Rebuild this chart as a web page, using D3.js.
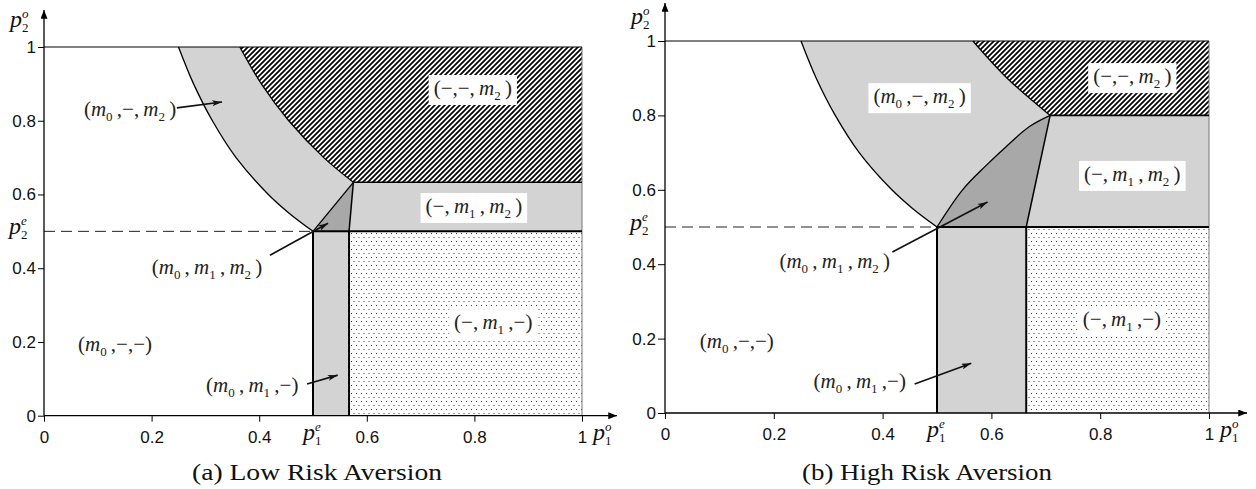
<!DOCTYPE html>
<html>
<head>
<meta charset="utf-8">
<script src="https://cdn.jsdelivr.net/npm/d3@7"></script>
<style>
  body { margin: 0; background: #fff; }
  svg { display: block; }
</style>
</head>
<body>
<svg id="chart" width="1256" height="489"></svg>
<script>
// tick values shared by both axes of both panels
var tickVals = [0, 0.2, 0.4, 0.6, 0.8, 1];
var pE = 0.5; // p1^e and p2^e

// outer edge of (m0,-,-), same in both panels
var curveA = [[0.25, 1], [0.278, 0.9], [0.313, 0.8], [0.357, 0.7], [0.417, 0.6], [0.455, 0.55], [0.5, 0.5]];

// (a) low risk aversion
var lowHatchEdge = [[0.364, 1], [0.404, 0.9], [0.455, 0.8], [0.52, 0.7], [0.575, 0.633]];
var lowInner = [[0.5, 0.5], [0.575, 0.633]];
var lowSplitX = 0.567;

// (b) high risk aversion
var highHatchEdge = [[0.566, 1], [0.629, 0.9], [0.708, 0.8]];
var highInner = [[0.5, 0.5], [0.547, 0.6], [0.59, 0.665], [0.627, 0.716], [0.67, 0.77], [0.708, 0.8]];
var highSplitX = 0.664;

// region labels: tokens, anchor (data units), white box or not
var lowLabels = [
  [["m0", "-", "m2"], [0.16, 0.829], false],
  [["-", "-", "m2"], [0.797, 0.886], true],
  [["-", "m1", "m2"], [0.799, 0.566], true],
  [["m0", "m1", "m2"], [0.303, 0.40], false],
  [["m0", "-", "-"], [0.132, 0.191], false],
  [["m0", "m1", "-"], [0.387, 0.081], false],
  [["-", "m1", "-"], [0.835, 0.251], true]
];
var highLabels = [
  [["m0", "-", "m2"], [0.468, 0.849], true],
  [["-", "-", "m2"], [0.859, 0.903], true],
  [["-", "m1", "m2"], [0.859, 0.64], true],
  [["m0", "m1", "m2"], [0.312, 0.406], false],
  [["m0", "-", "-"], [0.132, 0.191], false],
  [["m0", "m1", "-"], [0.358, 0.083], false],
  [["-", "m1", "-"], [0.84, 0.25], true]
];

// annotation arrows [from, to] in data units
var lowArrows = [
  [[0.247, 0.835], [0.331, 0.851]],
  [[0.42, 0.435], [0.528, 0.522]],
  [[0.489, 0.086], [0.546, 0.11]]
];
var highArrows = [
  [[0.418, 0.433], [0.593, 0.567]],
  [[0.459, 0.078], [0.563, 0.134]]
];

var captions = ["(a)  Low Risk Aversion", "(b)  High Risk Aversion"];

var LIGHT = "#d3d3d3", DARK = "#a8a8a8";
var SERIF = "\"Liberation Serif\", \"Times New Roman\", Times, serif";
var SANS = "\"Liberation Sans\", Arial, Helvetica, sans-serif";

var svg = d3.select("#chart");
var defs = svg.append("defs");

// diagonal hatch, pixel aligned "/" lines
var hatch = defs.append("pattern").attr("id", "hatch")
  .attr("patternUnits", "userSpaceOnUse")
  .attr("width", 5).attr("height", 5);
hatch.append("rect").attr("width", 5).attr("height", 5).attr("fill", "#fff");
hatch.append("path").attr("d", "M-1,6 L6,-1 M-1,1 L1,-1 M4,6 L6,4")
  .attr("stroke", "#000").attr("stroke-width", 1.7);

// dotted fill
var dots = defs.append("pattern").attr("id", "dots")
  .attr("patternUnits", "userSpaceOnUse")
  .attr("width", 5).attr("height", 8);
dots.append("rect").attr("width", 5).attr("height", 8).attr("fill", "#fff");
dots.append("rect").attr("x", 1).attr("y", 1).attr("width", 1).attr("height", 1).attr("fill", "#444");
dots.append("rect").attr("x", 3.5).attr("y", 5).attr("width", 1).attr("height", 1).attr("fill", "#444");

defs.append("marker").attr("id", "head")
  .attr("viewBox", "0 0 10 6").attr("refX", 10).attr("refY", 3)
  .attr("markerWidth", 12).attr("markerHeight", 6)
  .attr("markerUnits", "userSpaceOnUse").attr("orient", "auto")
  .append("path").attr("d", "M0,0 L10,3 L0,6 L2.5,3 Z").attr("fill", "#111");

defs.append("marker").attr("id", "axhead")
  .attr("viewBox", "0 0 10 8").attr("refX", 10).attr("refY", 4)
  .attr("markerWidth", 11).attr("markerHeight", 7)
  .attr("markerUnits", "userSpaceOnUse").attr("orient", "auto")
  .append("path").attr("d", "M0,0 L10,4 L0,8 Z").attr("fill", "#000");

function pLabel(g, px, py, sub, sup) {
  // italic p with stacked subscript / superscript
  var t = g.append("g").attr("font-family", SERIF).attr("fill", "#111");
  t.append("text").attr("x", px).attr("y", py).attr("font-size", 24).attr("font-style", "italic").text("p");
  t.append("text").attr("x", px + 12).attr("y", py - 9).attr("font-size", 13).attr("font-style", "italic").text(sup);
  t.append("text").attr("x", px + 12).attr("y", py + 5).attr("font-size", 13).text(sub);
}

function regionLabel(g, cx, cy, tokens, boxed) {
  var t = g.append("text")
    .attr("x", cx).attr("y", cy + 6)
    .attr("text-anchor", "middle")
    .attr("font-family", SERIF).attr("font-size", 21)
    .attr("fill", "#222");
  t.append("tspan").text("(");
  tokens.forEach(function(tk, i) {
    if (i) t.append("tspan").text(tk[0] == "m" ? ",\u2009" : ",");
    if (tk[0] == "m") {
      t.append("tspan").attr("font-style", "italic").text("m");
      t.append("tspan").attr("dy", 5).attr("font-size", 13).text(tk[1]);
      t.append("tspan").attr("dy", -5).text("\u2009");
    } else {
      t.append("tspan").text("\u2212");
    }
  });
  t.append("tspan").text(")");
  if (boxed) {
    var bb = t.node().getBBox();
    g.insert("rect", function() { return t.node(); })
      .attr("x", bb.x - 5).attr("y", bb.y - 1)
      .attr("width", bb.width + 10).attr("height", bb.height + 3)
      .attr("fill", "#fff");
  }
}

function drawPanel(P, d) {
  var x = d3.scaleLinear().domain([0, 1]).range([P.left, P.right]);
  var y = d3.scaleLinear().domain([0, 1]).range([P.bottom, P.top]);
  var g = svg.append("g");

  var line = d3.line().x(function(p) { return x(p[0]); }).y(function(p) { return y(p[1]); });
  var curve = d3.line().x(function(p) { return x(p[0]); }).y(function(p) { return y(p[1]); })
    .curve(d3.curveCatmullRom.alpha(0.5));

  function shape(segs) {
    return segs.map(function(s, i) {
      var str = (s[1] ? curve : line)(s[0]);
      return i ? "L" + str.slice(1) : str;
    }).join("") + "Z";
  }
  function rev(a) { return a.slice().reverse(); }

  var corner = d.hatchEdge[d.hatchEdge.length - 1];
  var split = [d.splitX, pE];

  // fills
  g.append("path").attr("fill", LIGHT)
    .attr("d", shape([[curveA, true], [d.inner, true], [rev(d.hatchEdge), true]]));
  g.append("path").attr("fill", DARK)
    .attr("d", shape([[d.inner, true], [[corner, split], false]]));
  g.append("path").attr("fill", LIGHT)
    .attr("d", shape([[[corner, [1, corner[1]], [1, pE], split], false]]));
  g.append("path").attr("fill", "url(#hatch)")
    .attr("d", shape([[d.hatchEdge, true], [[corner, [1, corner[1]], [1, 1]], false]]));
  g.append("path").attr("fill", LIGHT)
    .attr("d", shape([[[[pE, 0], [pE, pE], split, [d.splitX, 0]], false]]));
  g.append("path").attr("fill", "url(#dots)")
    .attr("d", shape([[[[d.splitX, 0], split, [1, pE], [1, 0]], false]]));

  // boundaries
  function stroke(pts, curved, w, col, dash) {
    g.append("path").attr("d", (curved ? curve : line)(pts))
      .attr("fill", "none").attr("stroke", col || "#000")
      .attr("stroke-width", w).attr("stroke-dasharray", dash || null);
  }
  stroke([[1, 0], [1, 1]], false, 1, "#777");
  stroke([[0, 1], [1, 1]], false, 1.2);
  stroke(curveA, true, 1.3);
  stroke(d.hatchEdge, true, 1.3);
  stroke(d.inner, true, 1.3);
  stroke([corner, split], false, 1.5);
  stroke([corner, [1, corner[1]]], false, 1.6);
  stroke([[pE, pE], [1, pE]], false, 2);
  stroke([[pE, 0], [pE, pE]], false, 2);
  stroke([[d.splitX, 0], split], false, 2);
  stroke([[0, pE], [pE, pE]], false, 1, "#222", "11,6");

  // axes
  var xAxis = g.append("g").attr("transform", "translate(0," + P.bottom + ")")
    .call(d3.axisBottom(x).tickValues(tickVals).tickFormat(d3.format("")).tickSize(6).tickPadding(9));
  var yAxis = g.append("g").attr("transform", "translate(" + P.left + ",0)")
    .call(d3.axisLeft(y).tickValues(tickVals).tickFormat(d3.format("")).tickSize(P.ytick).tickPadding(2));
  [xAxis, yAxis].forEach(function(a) {
    a.select(".domain").remove();
    a.attr("font-family", SANS).attr("font-size", 17);
    a.selectAll("text").attr("fill", "#111");
    a.selectAll("line").attr("stroke", "#000");
  });
  g.append("line").attr("x1", P.left).attr("y1", P.bottom).attr("x2", P.xEnd).attr("y2", P.bottom)
    .attr("stroke", "#000").attr("stroke-width", 1.3).attr("marker-end", "url(#axhead)");
  g.append("line").attr("x1", P.left).attr("y1", P.bottom).attr("x2", P.left).attr("y2", P.yEnd)
    .attr("stroke", "#000").attr("stroke-width", 1.3).attr("marker-end", "url(#axhead)");

  pLabel(g, P.left - 34, P.pTop, "2", "o");
  pLabel(g, P.left - 35, y(pE) + 3, "2", "e");
  pLabel(g, x(pE) - 10, P.bottom + 24, "1", "e");
  pLabel(g, P.right + 11, P.bottom + 24, "1", "o");

  // labels and arrows
  d.labels.forEach(function(l) { regionLabel(g, x(l[1][0]), y(l[1][1]), l[0], l[2]); });
  d.arrows.forEach(function(a) {
    g.append("line")
      .attr("x1", x(a[0][0])).attr("y1", y(a[0][1]))
      .attr("x2", x(a[1][0])).attr("y2", y(a[1][1]))
      .attr("stroke", "#111").attr("stroke-width", 1.6)
      .attr("marker-end", "url(#head)");
  });

  g.append("text").attr("x", P.capX).attr("y", 480).attr("text-anchor", "middle")
    .attr("font-family", SERIF).attr("font-size", 23).attr("fill", "#111")
    .attr("textLength", 250).attr("lengthAdjust", "spacingAndGlyphs")
    .text(d.caption);
}

drawPanel(
  { left: 44, right: 582, bottom: 415.7, top: 47, xEnd: 617, yEnd: 10, pTop: 27, ytick: 6, capX: 317 },
  { hatchEdge: lowHatchEdge, inner: lowInner, splitX: lowSplitX, labels: lowLabels, arrows: lowArrows, caption: captions[0] }
);
drawPanel(
  { left: 665, right: 1209, bottom: 413, top: 41, xEnd: 1247, yEnd: 3, pTop: 24, ytick: 7, capX: 927 },
  { hatchEdge: highHatchEdge, inner: highInner, splitX: highSplitX, labels: highLabels, arrows: highArrows, caption: captions[1] }
);
</script>
</body>
</html>
